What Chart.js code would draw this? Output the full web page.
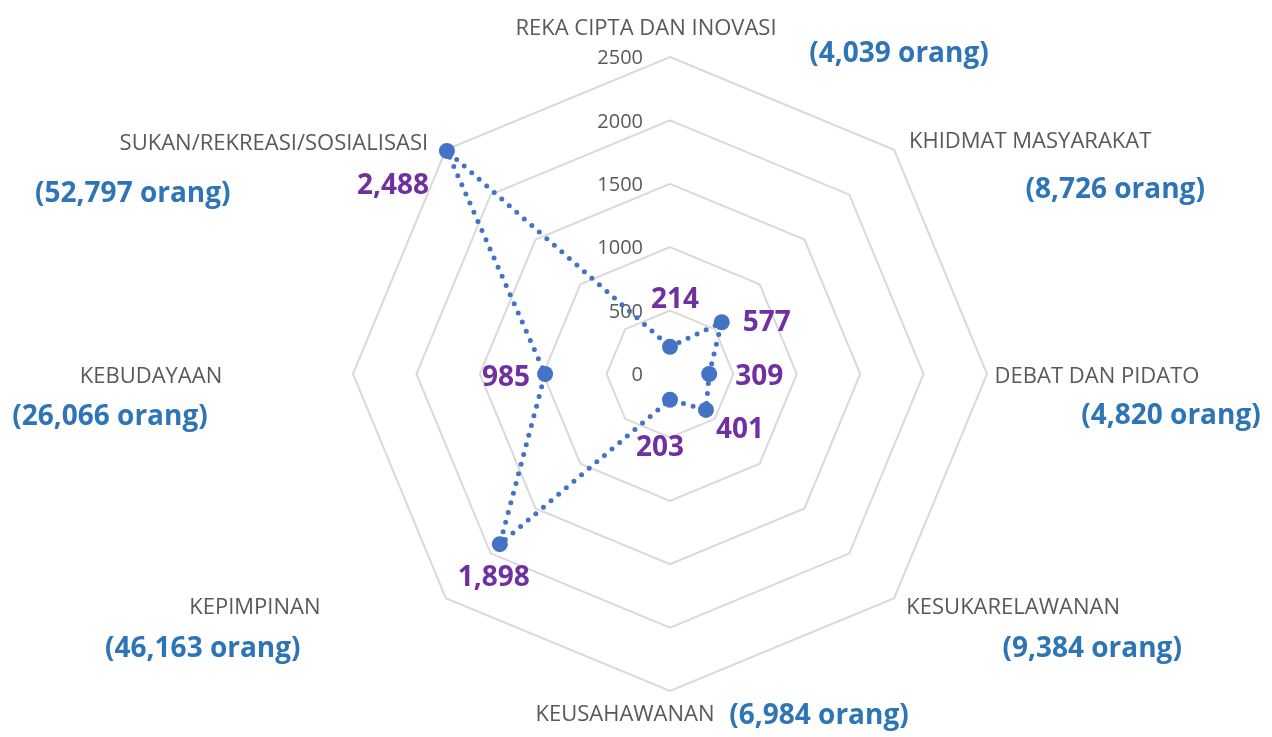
<!DOCTYPE html>
<html>
<head>
<meta charset="utf-8">
<title>Penyertaan program mengikut kategori</title>
<script src="https://cdn.jsdelivr.net/npm/chart.js@4.4.0/dist/chart.umd.min.js"></script>
<style>
  html, body { margin: 0; padding: 0; background: #fff; }
  #wrap { width: 1272px; height: 737px; position: relative; }
</style>
</head>
<body>
<div id="wrap"><canvas id="radarChart"></canvas></div>
<script>
const categories = [
    'REKA CIPTA DAN INOVASI',
    'KHIDMAT MASYARAKAT',
    'DEBAT DAN PIDATO',
    'KESUKARELAWANAN',
    'KEUSAHAWANAN',
    'KEPIMPINAN',
    'KEBUDAYAAN',
    'SUKAN/REKREASI/SOSIALISASI'
];
const programmes = [214, 577, 309, 401, 203, 1898, 985, 2488];
const participants = [4039, 8726, 4820, 9384, 6984, 46163, 26066, 52797];
const tickValues = [0, 500, 1000, 1500, 2000, 2500];

// label offsets (px): category + participant text from the outer vertex, values from the point
const catOffset = [[-24, -30], [136, -10], [110, 1], [119, 8], [-45, 22], [-191, 8], [-202, 1], [-172, -8]];
const countOffset = [[229, -5], [221, 38], [184, 40], [198, 49], [149, 23], [-243, 49], [-243, 41], [-313, 42]];
const valueOffset = [[5, -49], [45, -1], [50, 1], [34, 18], [-10, 46], [-6, 32], [-39, 2], [-54, 33]];

const FONT = '"Open Sans", "Noto Sans", sans-serif';
const fmt = n => n.toLocaleString('en-US');

// draw text centred on (x, cy) using cap-height centring
function centredText(ctx, text, x, cy, size, weight, color, align) {
    ctx.font = weight + ' ' + size + 'px ' + FONT;
    ctx.fillStyle = color;
    ctx.textAlign = align || 'center';
    ctx.textBaseline = 'alphabetic';
    ctx.fillText(text, x, cy + size * 0.357);
}

const radarLabels = {
    id: 'radarLabels',
    beforeDatasetsDraw(chart) {
        const r = chart.scales.r;
        const ctx = chart.ctx;
        ctx.save();
        tickValues.forEach(v => {
            const y = r.yCenter - r.getDistanceFromCenterForValue(v);
            centredText(ctx, String(v), r.xCenter - 27, y, 20, 'normal', '#595959', 'right');
        });
        ctx.restore();
    },
    afterDatasetsDraw(chart) {
        const r = chart.scales.r;
        const ctx = chart.ctx;
        const pts = chart.getDatasetMeta(0).data;
        ctx.save();
        categories.forEach((c, i) => {
            const v = r.getPointPosition(i, r.drawingArea);
            centredText(ctx, c, v.x + catOffset[i][0], v.y + catOffset[i][1], 22, 'normal', '#595959');
            centredText(ctx, '(' + fmt(participants[i]) + ' orang)',
                v.x + countOffset[i][0], v.y + countOffset[i][1], 28, 'bold', '#2E75B6');
            centredText(ctx, fmt(programmes[i]),
                pts[i].x + valueOffset[i][0], pts[i].y + valueOffset[i][1], 28, 'bold', '#7030A0');
        });
        ctx.restore();
    }
};

const ctx = document.getElementById('radarChart').getContext('2d');

new Chart(ctx, {
    type: 'radar',
    data: {
        labels: categories,
        datasets: [{
            data: programmes,
            borderColor: '#4472C4',
            borderWidth: 5,
            borderDash: [0, 10],
            borderCapStyle: 'round',
            fill: false,
            tension: 0,
            pointRadius: 8,
            pointBorderWidth: 0,
            pointBackgroundColor: '#4472C4'
        }]
    },
    options: {
        responsive: true,
        maintainAspectRatio: false,
        animation: false,
        layout: { padding: { left: 353, right: 285, top: 57, bottom: 46 } },
        plugins: {
            legend: { display: false },
            tooltip: { enabled: false }
        },
        scales: {
            r: {
                min: 0,
                max: 2500,
                ticks: { display: false, stepSize: 500 },
                grid: { color: '#d9d9d9', lineWidth: 2 },
                angleLines: { display: false },
                pointLabels: { display: false }
            }
        }
    },
    plugins: [radarLabels]
});
</script>
</body>
</html>
